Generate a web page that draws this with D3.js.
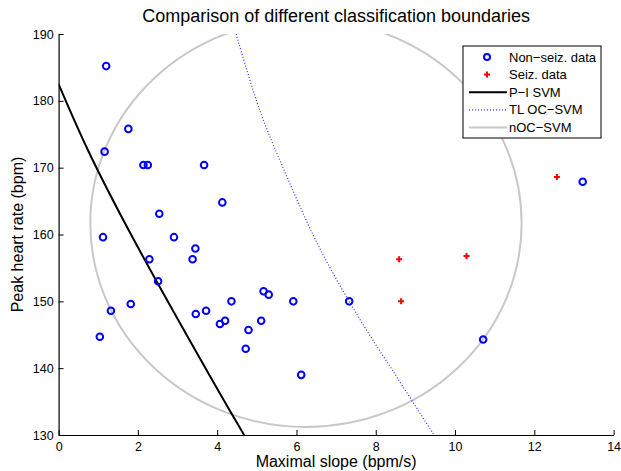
<!DOCTYPE html>
<html>
<head>
<meta charset="utf-8">
<script src="https://cdn.jsdelivr.net/npm/d3@7"></script>
<style>
  body { margin: 0; background: #fff; }
  svg text { font-family: "Liberation Sans", Arial, sans-serif; fill: #000; }
</style>
</head>
<body>
<div id="chart"></div>
<script>
// non-seizure data (maximal slope, peak heart rate)
const nonSeizX = [1.2, 1.16, 1.76, 2.14, 2.25, 3.67, 4.13, 2.54, 1.12, 2.91, 3.45, 3.38, 2.29, 2.51,
    5.17, 5.3, 4.36, 5.92, 7.33, 1.32, 1.82, 3.46, 3.72, 4.2, 4.07, 5.11, 4.79, 1.04, 4.72, 6.12, 10.71, 13.22];
const nonSeizY = [185.2, 172.4, 175.8, 170.4, 170.4, 170.4, 164.8, 163.1, 159.6, 159.6, 157.9, 156.3, 156.3, 153.0,
    151.5, 151.0, 150.0, 150.0, 150.0, 148.6, 149.6, 148.1, 148.6, 147.1, 146.6, 147.1, 145.7, 144.7, 142.9, 139.0, 144.3, 167.9];

// seizure data
const seizX = [12.57, 8.59, 10.29, 8.64];
const seizY = [168.6, 156.3, 156.8, 150.0];

// P-I SVM boundary
const pisvmX = [0, 0.75, 1.8, 4.07, 4.68];
const pisvmY = [182.5, 172.5, 160.3, 136.2, 130];

// TL OC-SVM boundary
const tlX = [4.48, 5.08, 5.8, 6.59, 7.58, 8.55, 9.47];
const tlY = [190, 178.5, 168.1, 157.9, 147.5, 138.5, 130];

// nOC-SVM boundary (ellipse: center, radii)
const nocCenter = [6.24, 161.7];
const nocRadius = [5.44, 30.5];

const xTicks = [0, 2, 4, 6, 8, 10, 12, 14];
const yTicks = [130, 140, 150, 160, 170, 180, 190];

const legendLabels = ["Non\u2212seiz. data", "Seiz. data", "P\u2212I SVM", "TL OC\u2212SVM", "nOC\u2212SVM"];

const W = 621, H = 471;
const margin = { top: 34, right: 7.4, bottom: 36, left: 58.6 };
const width = W - margin.left - margin.right;
const height = H - margin.top - margin.bottom;

const svg = d3.select("#chart").append("svg")
    .attr("width", W)
    .attr("height", H);

const g = svg.append("g")
    .attr("transform", `translate(${margin.left},${margin.top})`);

const x = d3.scaleLinear().domain([0, 14]).range([0, width]);
const y = d3.scaleLinear().domain([130, 190]).range([height, 0]);

g.append("clipPath").attr("id", "clip")
    .append("rect").attr("width", width).attr("height", height);

const plot = g.append("g").attr("clip-path", "url(#clip)");

// nOC-SVM
plot.append("ellipse")
    .attr("cx", x(nocCenter[0]))
    .attr("cy", y(nocCenter[1]))
    .attr("rx", x(nocRadius[0]) - x(0))
    .attr("ry", y(130) - y(130 + nocRadius[1]))
    .attr("fill", "none")
    .attr("stroke", "#c8c8c8")
    .attr("stroke-width", 2);

const line = d3.line()
    .x(d => x(d[0]))
    .y(d => y(d[1]))
    .curve(d3.curveCatmullRom);

plot.append("path")
    .datum(d3.zip(pisvmX, pisvmY))
    .attr("d", line)
    .attr("fill", "none")
    .attr("stroke", "#000")
    .attr("stroke-width", 2);

plot.append("path")
    .datum(d3.zip(tlX, tlY))
    .attr("d", line)
    .attr("fill", "none")
    .attr("stroke", "#3030ff")
    .attr("stroke-width", 1.2)
    .attr("stroke-dasharray", "1,2");

// markers
plot.selectAll(".nonseiz")
    .data(d3.zip(nonSeizX, nonSeizY))
    .enter()
    .append("circle")
    .attr("class", "nonseiz")
    .attr("cx", d => x(d[0]))
    .attr("cy", d => y(d[1]))
    .attr("r", 3.3)
    .attr("fill", "none")
    .attr("stroke", "#0000ff")
    .attr("stroke-width", 2);

plot.selectAll(".seiz")
    .data(d3.zip(seizX, seizY))
    .enter()
    .append("path")
    .attr("class", "seiz")
    .attr("transform", d => `translate(${x(d[0])},${y(d[1])})`)
    .attr("d", "M-3,0H3M0,-3V3")
    .attr("stroke", "#ff0000")
    .attr("stroke-width", 2);

// axes
const xAxis = g.append("g")
    .attr("transform", `translate(0,${height})`)
    .call(d3.axisBottom(x).tickValues(xTicks).tickSize(-5).tickSizeOuter(0).tickPadding(5).tickFormat(d3.format("d")));
const yAxis = g.append("g")
    .call(d3.axisLeft(y).tickValues(yTicks).tickSize(-5).tickSizeOuter(0).tickPadding(5).tickFormat(d3.format("d")));

[xAxis, yAxis].forEach(a => {
    a.select(".domain").attr("stroke", "#000").attr("stroke-width", 1.2);
    a.selectAll(".tick line").attr("stroke", "#000");
    a.selectAll("text").attr("font-size", 12.5).attr("font-family", "Liberation Sans, Arial, sans-serif");
});
xAxis.selectAll(".tick text").attr("dy", "0.85em");

// labels
svg.append("text")
    .attr("x", margin.left + width / 2)
    .attr("y", 22)
    .attr("text-anchor", "middle")
    .attr("font-size", 18)
    .text("Comparison of different classification boundaries");

svg.append("text")
    .attr("x", margin.left + width / 2)
    .attr("y", 467)
    .attr("text-anchor", "middle")
    .attr("font-size", 16)
    .text("Maximal slope (bpm/s)");

svg.append("text")
    .attr("transform", `translate(23,${margin.top + height / 2}) rotate(-90)`)
    .attr("text-anchor", "middle")
    .attr("font-size", 16)
    .text("Peak heart rate (bpm)");

// legend
const legend = svg.append("g").attr("transform", "translate(463,46)");
legend.append("rect")
    .attr("width", 138)
    .attr("height", 92)
    .attr("fill", "#fff")
    .attr("stroke", "#000")
    .attr("stroke-width", 1);

const rowY = i => 11 + i * 17.6;

legend.append("circle")
    .attr("cx", 24).attr("cy", rowY(0)).attr("r", 3)
    .attr("fill", "none").attr("stroke", "#0000ff").attr("stroke-width", 2);
legend.append("path")
    .attr("transform", `translate(24,${rowY(1)})`)
    .attr("d", "M-3,0H3M0,-3V3")
    .attr("stroke", "#ff0000").attr("stroke-width", 2);
legend.append("line")
    .attr("x1", 6).attr("x2", 44).attr("y1", rowY(2)).attr("y2", rowY(2))
    .attr("stroke", "#000").attr("stroke-width", 2);
legend.append("line")
    .attr("x1", 6).attr("x2", 44).attr("y1", rowY(3)).attr("y2", rowY(3))
    .attr("stroke", "#3030ff").attr("stroke-width", 1.2).attr("stroke-dasharray", "1,2");
legend.append("line")
    .attr("x1", 6).attr("x2", 44).attr("y1", rowY(4)).attr("y2", rowY(4))
    .attr("stroke", "#c8c8c8").attr("stroke-width", 2);

legend.selectAll(".lbl")
    .data(legendLabels)
    .enter()
    .append("text")
    .attr("class", "lbl")
    .attr("x", 46)
    .attr("y", (d, i) => rowY(i))
    .attr("dy", "0.35em")
    .attr("font-size", 13)
    .text(d => d);
</script>
</body>
</html>
